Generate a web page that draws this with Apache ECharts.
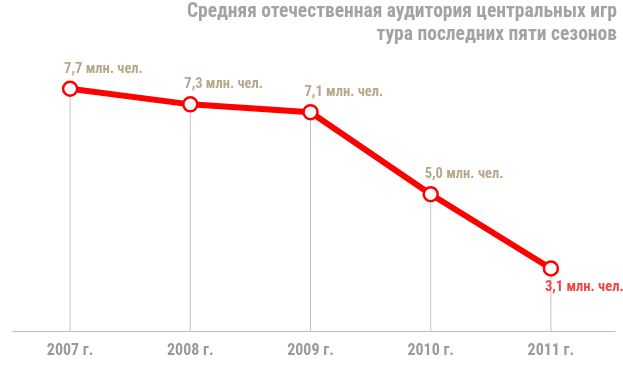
<!DOCTYPE html>
<html><head><meta charset="utf-8">
<script src="https://cdn.jsdelivr.net/npm/echarts@6/dist/echarts.min.js"></script>
<style>html,body{margin:0;padding:0;background:#fff}#c{width:623px;height:385px}</style>
</head><body><div id="c"></div>
<script>
const categories = ['2007 г.', '2008 г.', '2009 г.', '2010 г.', '2011 г.'];
const audience = [7.7, 7.3, 7.1, 5.0, 3.1];
const valueLabels = ['7,7 млн. чел.', '7,3 млн. чел.', '7,1 млн. чел.', '5,0 млн. чел.', '3,1 млн. чел.'];
const titleLines = ['Средняя отечественная аудитория центральных игр', 'тура последних пяти сезонов'];

const FONT = '"Roboto Condensed", "Open Sans Condensed", sans-serif';
const chart = echarts.init(document.getElementById('c'));
const last = audience.length - 1;
const lineData = audience.map((v, i) => ({
  value: v,
  label: i === last
    ? { position: 'bottom', align: 'left', offset: [-6, -2], color: '#f04545' }
    : { position: 'top', align: 'left', offset: [-6, 1], color: '#b5a98b' }
}));

chart.setOption({
  animation: false,
  graphic: titleLines.map((t, i) => ({
    type: 'text', x: 617, y: 12 + i * 23,
    style: { text: t, fill: '#a3a3a3', font: 'bold 19.5px ' + FONT, align: 'right', verticalAlign: 'middle' }
  })),
  grid: [
    { left: 10, right: 12, top: 77, bottom: 54 },
    { left: 13, right: 8, top: 77, bottom: 54 }
  ],
  xAxis: [
    {
      type: 'category', data: categories, boundaryGap: true, gridIndex: 0,
      axisLine: { show: false }, axisTick: { show: false },
      axisLabel: { color: '#9a9a9a', fontFamily: FONT, fontSize: 16, fontWeight: 'bold', margin: 12 }
    },
    {
      type: 'value', gridIndex: 1, min: 0, max: 1,
      axisLine: { show: true, onZero: false, lineStyle: { color: '#bdbdbd', width: 1 } },
      axisTick: { show: false }, axisLabel: { show: false }, splitLine: { show: false }
    }
  ],
  yAxis: [
    { type: 'value', min: 1.5, max: 8, gridIndex: 0, show: false },
    { type: 'value', min: 0, max: 1, gridIndex: 1, show: false }
  ],
  series: [
    {
      type: 'bar', data: audience, barWidth: 1, silent: true,
      itemStyle: { color: '#c4c4c4' }, z: 1
    },
    {
      type: 'line', data: lineData, z: 3,
      lineStyle: { color: '#ff0000', width: 6 },
      symbol: 'circle', symbolSize: 14,
      itemStyle: { color: '#ffffff', borderColor: '#ff0000', borderWidth: 2.5 },
      label: {
        show: true, fontFamily: FONT, fontSize: 14.5, fontWeight: 'bold',
        formatter: p => valueLabels[p.dataIndex]
      }
    }
  ]
});
</script></body></html>
